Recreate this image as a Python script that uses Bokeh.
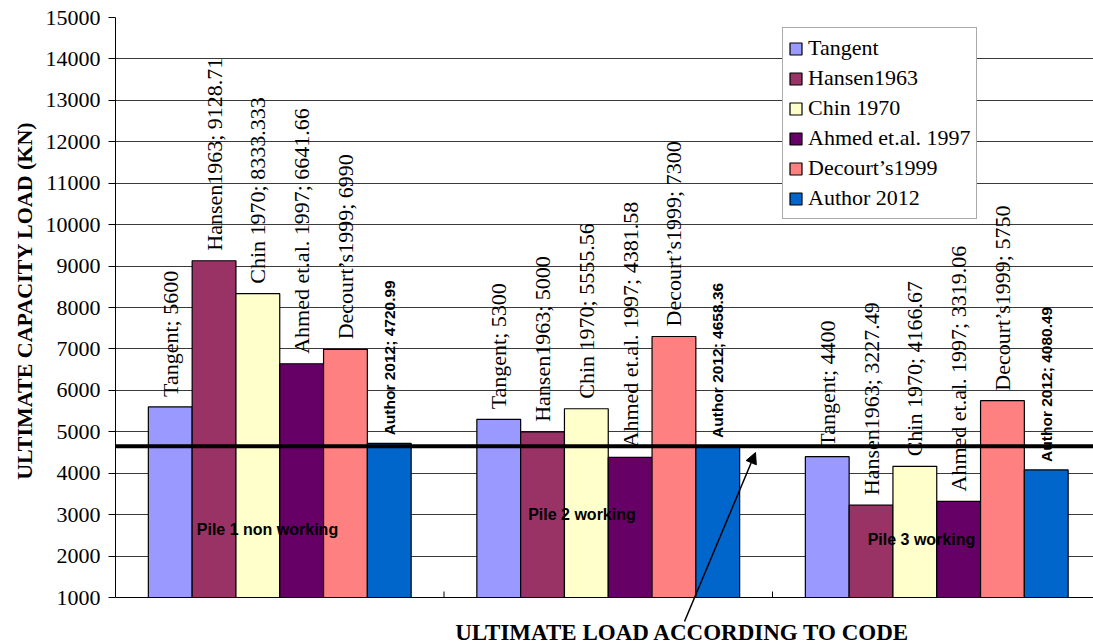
import math
from bokeh.plotting import figure
from bokeh.models import (ColumnDataSource, FixedTicker, Range1d, Span, Arrow,
                          NormalHead, Label, Legend, LegendItem, Title)
from bokeh.core.properties import value
from bokeh.embed import file_html
from bokeh.resources import INLINE

# ---------------- data ----------------
piles = ["Pile 1 non working", "Pile 2 working", "Pile 3 working"]
series = ["Tangent", "Hansen1963", "Chin 1970", "Ahmed et.al. 1997",
          "Decourt\u2019s1999", "Author 2012"]
tangent = [5600, 5300, 4400]
hansen = [9128.71, 5000, 3227.49]
chin = [8333.333, 5555.56, 4166.67]
ahmed = [6641.66, 4381.58, 3319.06]
decourt = [6990, 7300, 5750]
author = [4720.99, 4658.36, 4080.49]
pile_label_y = [2650, 3000, 2400]
code_load = 4650
code_text = "ULTIMATE LOAD ACCORDING TO CODE"
y_ticks = list(range(1000, 16000, 1000))
y_min, y_max = 1000, 15000
y_title = "ULTIMATE CAPACITY LOAD (KN)"

colors = ["#9999FF", "#993366", "#FFFFCC", "#660066", "#FF8080", "#0066CC"]
all_values = [tangent, hansen, chin, ahmed, decourt, author]

# ---------------- layout constants ----------------
W, H = 1093, 644
LEFT, TOP, AXIS_Y = 115, 17, 597      # frame left / top, pixel row of y=1000
GROUP = 7.5          # bar widths per group incl. gap
GAP = 1.5
PXX = 43.8                               # pixels per bar width
PXY = (AXIS_Y - TOP) / (y_max - y_min)   # pixels per kN
SERIF = "Liberation Serif"
SANS = "Liberation Sans"


def fmt(v):
    s = repr(float(v))
    return s[:-2] if s.endswith(".0") else s


to_x = lambda px: (px - LEFT) / PXX
to_y = lambda py: y_min + (AXIS_Y - py) / PXY

p = figure(width=W, height=H,
           x_range=Range1d(0, (W - LEFT) / PXX),
           y_range=Range1d(to_y(H), y_max),
           x_axis_location=None,
           output_backend="svg", toolbar_location=None,
           min_border_left=LEFT, min_border_right=0,
           min_border_top=TOP, min_border_bottom=0)
p.outline_line_color = None
p.background_fill_color = "white"
p.border_fill_color = "white"

# grid
p.xgrid.visible = False
p.ygrid.ticker = FixedTicker(ticks=y_ticks)
p.ygrid.grid_line_color = "#3a3a3a"
p.ygrid.grid_line_width = 1

# y axis
p.yaxis.ticker = FixedTicker(ticks=y_ticks)
p.yaxis.bounds = (y_min, y_max)
p.yaxis.major_tick_in = 0
p.yaxis.major_tick_out = 7
p.yaxis.minor_tick_line_color = None
p.yaxis.major_label_text_font = SERIF
p.yaxis.major_label_text_font_size = "22px"
p.yaxis.major_label_text_color = "black"
p.yaxis.major_label_standoff = 8
p.yaxis.axis_line_color = "black"
p.yaxis.major_tick_line_color = "black"

# y title (as a left-side title so it can be positioned along the axis)
p.add_layout(Title(text=y_title, align="right", offset=104,
                   text_font=SERIF, text_font_size="22px",
                   text_font_style="bold", text_color="black",
                   standoff=12), "left")

# bottom axis line and inward ticks at group boundaries
p.add_layout(Span(location=y_min, dimension="width", line_color="black",
                  line_width=1.2))
bx = [GROUP * i for i in range(1, len(piles))]
p.segment(x0=bx, y0=[y_min] * len(bx), x1=bx,
          y1=[y_min + 6 / PXY] * len(bx), line_color="black", line_width=1)

# bars
legend_items = []
for k, (name, vals, col) in enumerate(zip(series, all_values, colors)):
    xs = [g * GROUP + GAP / 2 + k + 0.5 for g in range(len(piles))]
    src = ColumnDataSource(dict(x=xs, top=vals,
                                lab=[f"{name}; {fmt(v)}" for v in vals]))
    r = p.vbar(x="x", top="top", bottom=y_min, width=1.0, source=src,
               fill_color=col, line_color="black", line_width=1.2)
    legend_items.append(LegendItem(label=name, renderers=[r]))
    if name == "Author 2012":
        p.text(x="x", y="top", text="lab", source=src, angle=math.pi / 2,
               text_align="left", text_baseline="middle", y_offset=-8,
               text_font=value(SANS), text_font_size="15.5px",
               text_font_style="bold", text_color="black")
    else:
        p.text(x="x", y="top", text="lab", source=src, angle=math.pi / 2,
               text_align="left", text_baseline="middle", y_offset=-10,
               text_font=value(SERIF), text_font_size="22px",
               text_color="black")

# pile names
pile_shift = [-0.28, -0.6, -0.35]
pile_x = [g * GROUP + GROUP / 2 + s for g, s in enumerate(pile_shift)]
p.text(x=pile_x, y=pile_label_y, text=piles, text_align="center",
       text_baseline="middle", text_font=value(SANS), text_font_size="16px",
       text_font_style="bold", text_color="black")

# legend
legend = Legend(items=legend_items,
                location=(782 - LEFT, H - 219), orientation="vertical",
                label_text_font=SERIF, label_text_font_size="22px",
                label_text_color="black", glyph_width=15, glyph_height=15,
                label_height=30, label_standoff=5, spacing=0, padding=5,
                margin=0, border_line_color="#555555", border_line_width=1,
                background_fill_color="white", background_fill_alpha=1)
p.add_layout(legend)

# code load line
p.add_layout(Span(location=code_load, dimension="width", line_color="black",
                  line_width=4))

# annotation text + arrow
p.add_layout(Label(x=to_x(682), y=to_y(632), text=code_text,
                   text_align="center", text_baseline="middle",
                   text_font=SERIF, text_font_size="23px",
                   text_font_style="bold", text_color="black"))
p.add_layout(Arrow(end=NormalHead(size=11, fill_color="black",
                                  line_color="black"),
                   x_start=to_x(684), y_start=to_y(621),
                   x_end=to_x(755), y_end=to_y(452),
                   line_color="black", line_width=1.5))

open("out.html", "w").write(file_html(p, INLINE))
